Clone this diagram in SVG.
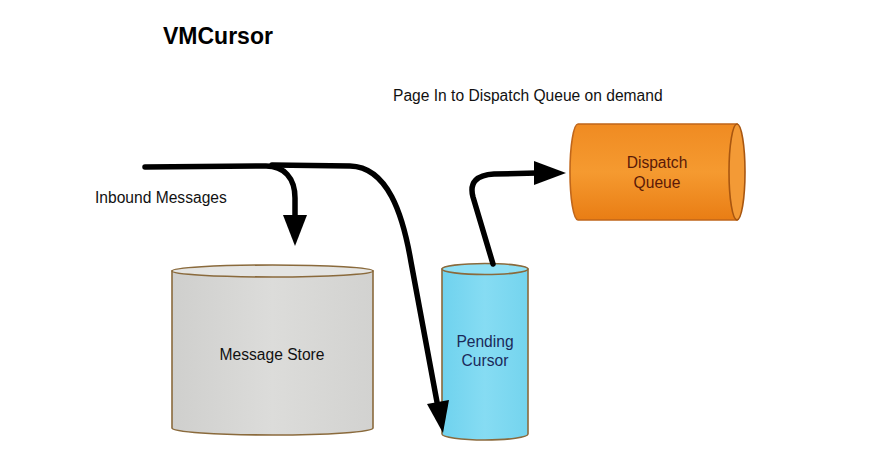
<svg xmlns="http://www.w3.org/2000/svg" width="896" height="450" viewBox="0 0 896 450">
<defs>
<linearGradient id="gGray" x1="0" y1="0" x2="1" y2="0">
<stop offset="0" stop-color="#cfcfcd"/><stop offset="0.5" stop-color="#dcdcda"/><stop offset="1" stop-color="#d2d2d0"/>
</linearGradient>
<linearGradient id="gCyan" x1="0" y1="0" x2="1" y2="0">
<stop offset="0" stop-color="#6fd2ee"/><stop offset="0.5" stop-color="#86dcf3"/><stop offset="1" stop-color="#74d4ee"/>
</linearGradient>
<linearGradient id="gOrange" x1="0" y1="0" x2="0" y2="1">
<stop offset="0" stop-color="#f08b22"/><stop offset="0.5" stop-color="#f59a30"/><stop offset="1" stop-color="#e97d14"/>
</linearGradient>
<style>
.lbl{font-family:"Liberation Sans",Arial,sans-serif;font-size:15.6px;fill:#111}
.edge{fill:none;stroke:#000;stroke-width:5.5;stroke-linecap:round;stroke-linejoin:round}
.head{fill:#000}
.rim{stroke:#8a6a3c;stroke-width:1.6}
</style>
</defs>
<rect width="896" height="450" fill="#fff"/>
<text x="163" y="44" style="font-family:'Liberation Sans',Arial,sans-serif;font-size:23px;font-weight:bold" fill="#000">VMCursor</text>
<text x="393" y="101" class="lbl">Page In to Dispatch Queue on demand</text>
<text x="95" y="203" class="lbl">Inbound Messages</text>

<g id="message-store">
<path d="M172,271 L172,428 A100.5,7 0 0 0 373,428 L373,271 Z" fill="url(#gGray)" class="rim"/>
<ellipse cx="272.5" cy="271" rx="100.5" ry="6" fill="#e4e4e2" class="rim"/>
<text x="272" y="360" text-anchor="middle" class="lbl">Message Store</text>
</g>

<g id="pending-cursor">
<path d="M442,269 L442,434 A43,6 0 0 0 528,434 L528,269 Z" fill="url(#gCyan)" class="rim"/>
<ellipse cx="485" cy="269" rx="43" ry="5.5" fill="#8fe0f5" class="rim"/>
<text x="485" y="347" text-anchor="middle" class="lbl" style="fill:#1a2a5a">Pending</text>
<text x="485" y="366" text-anchor="middle" class="lbl" style="fill:#1a2a5a">Cursor</text>
</g>

<g id="dispatch-queue">
<path d="M737,124 L578,124 A8,48 0 0 0 578,220 L737,220 Z" fill="url(#gOrange)" class="rim" style="stroke:#c0661a"/>
<ellipse cx="737" cy="172" rx="8" ry="48" fill="#f39a36" class="rim" style="stroke:#a85610"/>
<text x="657" y="168" text-anchor="middle" class="lbl" style="fill:#5a1a08">Dispatch</text>
<text x="657" y="188" text-anchor="middle" class="lbl" style="fill:#5a1a08">Queue</text>
</g>

<g id="connectors">
<path class="edge" d="M145,167 L266,166 C284,166 295,178 295,198 L295,218"/>
<polygon class="head" points="283,215 307,215 295,246"/>
<path class="edge" d="M272,165 L350,166 C388,167 403,215 411,262 L437,402"/>
<polygon class="head" points="427,404 449,400 443,433"/>
<path class="edge" d="M493,264 L473,197 C469,182 477,175 494,174 L537,173"/>
<polygon class="head" points="534,161 534,185 566,173"/>
</g>
</svg>
